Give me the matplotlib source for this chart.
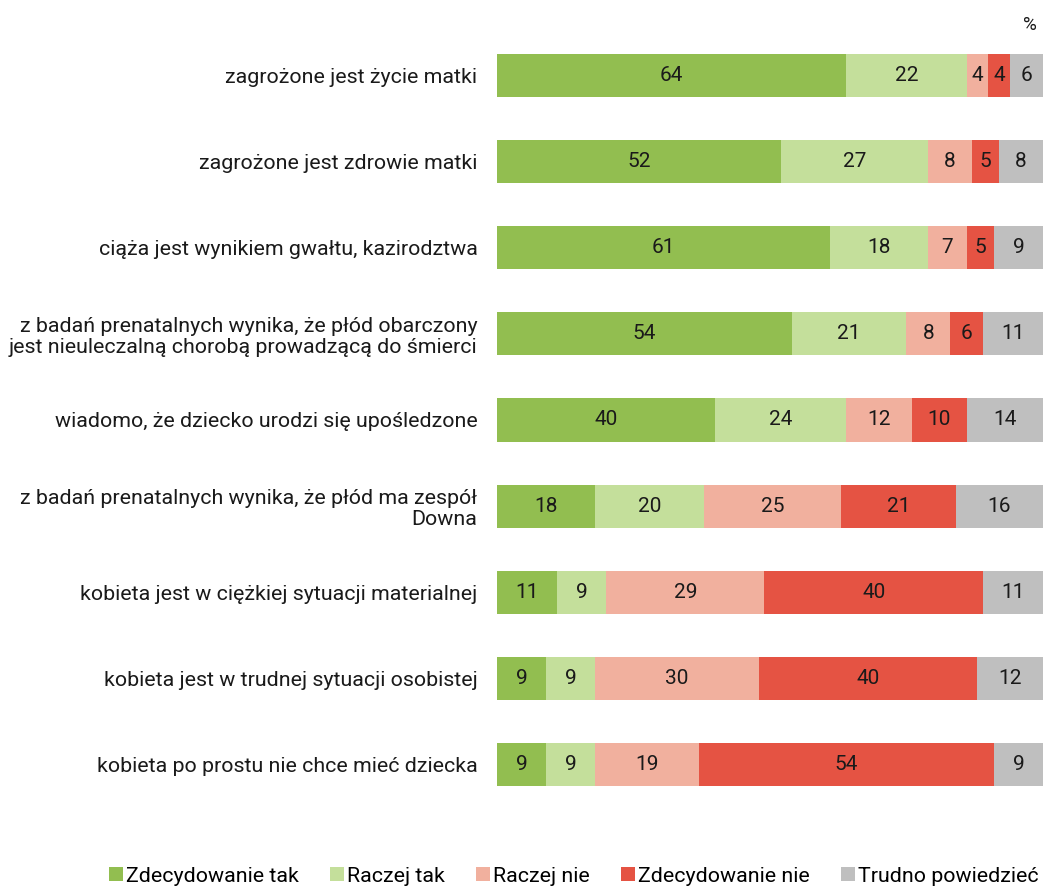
import numpy as np
import matplotlib.pyplot as plt
from matplotlib import rcParams

rcParams['font.family'] = ['Roboto', 'DejaVu Sans']

categories = [
    'zagrożone jest życie matki',
    'zagrożone jest zdrowie matki',
    'ciąża jest wynikiem gwałtu, kazirodztwa',
    'z badań prenatalnych wynika, że płód obarczony\njest nieuleczalną chorobą prowadzącą do śmierci',
    'wiadomo, że dziecko urodzi się upośledzone',
    'z badań prenatalnych wynika, że płód ma zespół\nDowna',
    'kobieta jest w ciężkiej sytuacji materialnej',
    'kobieta jest w trudnej sytuacji osobistej',
    'kobieta po prostu nie chce mieć dziecka',
]
series_names = ['Zdecydowanie tak', 'Raczej tak', 'Raczej nie', 'Zdecydowanie nie', 'Trudno powiedzieć']
zdecydowanie_tak = [64, 52, 61, 54, 40, 18, 11, 9, 9]
raczej_tak = [22, 27, 18, 21, 24, 20, 9, 9, 9]
raczej_nie = [4, 8, 7, 8, 12, 25, 29, 30, 19]
zdecydowanie_nie = [4, 5, 5, 6, 10, 21, 40, 40, 54]
trudno = [6, 8, 9, 11, 14, 16, 11, 12, 9]
colors = ['#92be50', '#c4df9b', '#f1b09e', '#e55343', '#bfbfbf']

series = [zdecydowanie_tak, raczej_tak, raczej_nie, zdecydowanie_nie, trudno]

fig = plt.figure(figsize=(10.44, 8.93), dpi=100)
ax = fig.add_axes([0.476, 0.0952, 0.523, 0.869])

y = np.arange(len(categories))
left = np.zeros(len(categories))
handles = []
for name, vals, col in zip(series_names, series, colors):
    vals = np.array(vals, dtype=float)
    b = ax.barh(y, vals, left=left, height=0.5, color=col, label=name)
    handles.append(b)
    for yi, l, v in zip(y, left, vals):
        ax.text(l + v / 2, yi, f'{int(v)}', ha='center', va='center',
                fontsize=15, color='#1a1a1a')
    left += vals

ax.set_xlim(0, 100)
ax.set_ylim(len(categories) - 0.5, -0.5)
ax.set_yticks(y)
ax.set_yticklabels(categories, fontsize=15.4, color='#1a1a1a', linespacing=1.15)
ax.tick_params(axis='y', length=0, pad=14)
ax.set_xticks([])
for s in ax.spines.values():
    s.set_visible(False)

fig.text(0.993, 0.972, '%', ha='right', va='center', fontsize=13.5, color='#1a1a1a')

fig.legend(handles=handles, labels=series_names, loc='center right',
           bbox_to_anchor=(1.003, 0.019), ncol=5, frameon=False, fontsize=15.4,
           handlelength=0.65, handleheight=0.65, handletextpad=0.15,
           columnspacing=1.45, borderaxespad=0)

fig.savefig('out.png', dpi=100)
